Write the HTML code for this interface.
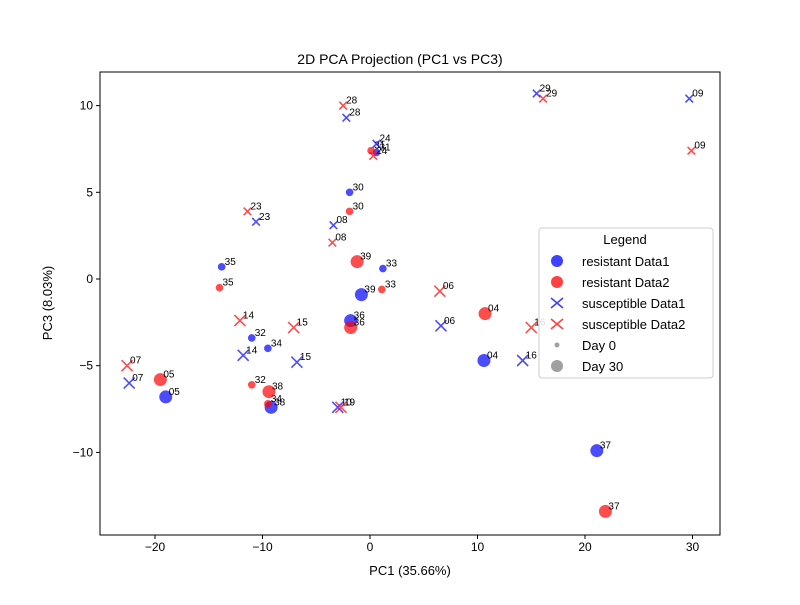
<!DOCTYPE html>
<html><head><meta charset="utf-8"><style>body{margin:0;background:#fff}svg text{font-family:"Liberation Sans",sans-serif}</style></head>
<body>
<svg id="c" width="800" height="600" xmlns="http://www.w3.org/2000/svg"></svg>
<script>
const resLabels=["35","30","33","32","34","39","36","05","38","04","37","31"];
const resDay=[0,0,0,0,0,30,30,30,30,30,30,0];
const res1X=[-13.8,-1.9,1.2,-11.0,-9.5,-0.8,-1.8,-19.0,-9.2,10.6,21.1,0.6];
const res1Y=[0.7,5.0,0.6,-3.4,-4.0,-0.9,-2.4,-6.8,-7.4,-4.7,-9.9,7.3];
const res2X=[-14.0,-1.9,1.1,-11.0,-9.5,-1.2,-1.8,-19.5,-9.4,10.7,21.9,0.1];
const res2Y=[-0.5,3.9,-0.6,-6.1,-7.2,1.0,-2.8,-5.8,-6.5,-2.0,-13.4,7.4];
const susLabels1=["29","09","28","24","23","08","06","14","15","16","07","10"];
const susDay=[0,0,0,0,0,0,30,30,30,30,30,30];
const sus1X=[15.5,29.7,-2.2,0.6,-10.6,-3.4,6.6,-11.8,-6.8,14.2,-22.4,-3.0];
const sus1Y=[10.7,10.4,9.3,7.8,3.3,3.1,-2.7,-4.4,-4.8,-4.7,-6.0,-7.4];
const susLabels2=["28","29","09","23","08","24","06","14","15","16","07","19"];
const sus2Day=[0,0,0,0,0,0,30,30,30,30,30,30];
const sus2X=[-2.5,16.1,29.9,-11.4,-3.5,0.3,6.5,-12.1,-7.1,15.0,-22.6,-2.7];
const sus2Y=[10.0,10.4,7.4,3.9,2.1,7.1,-0.7,-2.4,-2.8,-2.8,-5.0,-7.4];
const xTicks=[-20,-10,0,10,20,30];
const yTicks=[-10,-5,0,5,10];

const L=100,R=720,T=72,B=535;
const sx=v=>370+v*10.75;
const sy=v=>279-v*17.34;
const svg=document.getElementById('c');
const NS="http://www.w3.org/2000/svg";
function mk(tag,attrs,parent){const e=document.createElementNS(NS,tag);for(const k in attrs)e.setAttribute(k,attrs[k]);(parent||svg).appendChild(e);return e;}
function txt(x,y,s,size,anchor,parent){const t=mk('text',{x:x,y:y,'font-size':size,'text-anchor':anchor||'start',fill:'#000'},parent);t.textContent=s;return t;}

const ttl=txt(400,64,"2D PCA Projection (PC1 vs PC3)",14,'middle');


const xt=txt(410,575,"PC1 (35.66%)",13,'middle');


const yt=txt(0,0,"PC3 (8.03%)",13,'middle');
yt.setAttribute('transform','translate(52,303) rotate(-90)');



xTicks.forEach(v=>{const x=sx(v);mk('line',{x1:x,x2:x,y1:B,y2:B+4,stroke:'#000'});const t=txt(x,551,v<0?'\u2212'+(-v):String(v),12,'middle');});
yTicks.forEach(v=>{const y=sy(v);mk('line',{x1:L-4,x2:L,y1:y,y2:y,stroke:'#000'});const t=txt(L-7,y+4,v<0?'\u2212'+(-v):String(v),12,'end');});

function circle(x,y,day,col,lab,name){
  const c=mk('circle',{cx:sx(x),cy:sy(y),r:day?6.5:3.8,fill:col,'fill-opacity':0.7});
  
  
  txt(sx(x)+3,sy(y)-2,lab,10);
}
function cross(x,y,day,col,lab,name){
  const h=day?5.5:3.8,px=sx(x),py=sy(y);
  const g=mk('path',{d:`M${px-h},${py-h}L${px+h},${py+h}M${px-h},${py+h}L${px+h},${py-h}`,stroke:col,'stroke-width':1.6,'stroke-opacity':0.7,fill:'none'});
  
  
  txt(px+3,py-2,lab,10);
}
res1X.forEach((v,i)=>circle(v,res1Y[i],resDay[i],'#0000ff',resLabels[i],'resistant-data1-point'));
res2X.forEach((v,i)=>circle(v,res2Y[i],resDay[i],'#ff0000',resLabels[i],'resistant-data2-point'));
sus1X.forEach((v,i)=>cross(v,sus1Y[i],susDay[i],'#0000ff',susLabels1[i],'susceptible-data1-point'));
sus2X.forEach((v,i)=>cross(v,sus2Y[i],sus2Day[i],'#ff0000',susLabels2[i],'susceptible-data2-point'));

const frame=mk('rect',{x:L,y:T,width:R-L,height:B-T,fill:'none',stroke:'#000','stroke-width':1});



const lg=mk('g',{});


mk('rect',{x:539,y:228,width:174,height:150,rx:3,fill:'#fff','fill-opacity':0.85,stroke:'#ccc'},lg);
txt(625,244,"Legend",13,'middle',lg);
const items=[["resistant Data1","c","#0000ff",6],["resistant Data2","c","#ff0000",6],["susceptible Data1","x","#0000ff",5],["susceptible Data2","x","#ff0000",5],["Day 0","c","#808080",2.5],["Day 30","c","#808080",6]];
items.forEach((it,i)=>{const y=261+i*21;
  if(it[1]=='c')mk('circle',{cx:557,cy:y,r:it[3],fill:it[2],'fill-opacity':0.75},lg);
  else mk('path',{d:`M551,${y-5}L563,${y+5}M551,${y+5}L563,${y-5}`,stroke:it[2],'stroke-width':1.6,'stroke-opacity':0.75},lg);
  const t=txt(582,y+5,it[0],13,'start',lg);
  
  
});
</script>
</body></html>
